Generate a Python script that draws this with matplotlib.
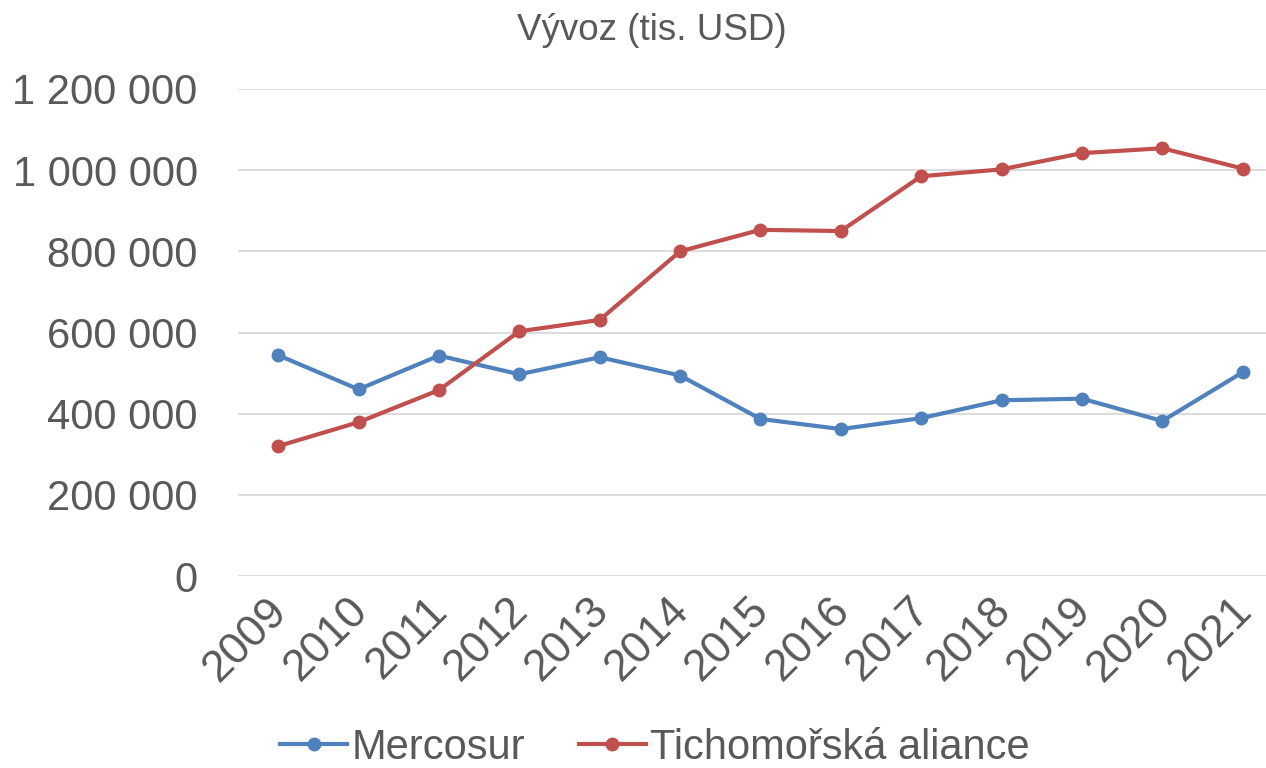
import matplotlib
matplotlib.use("Agg")
import matplotlib.pyplot as plt
from matplotlib.ticker import FuncFormatter
from matplotlib.transforms import ScaledTranslation

years = ["2009", "2010", "2011", "2012", "2013", "2014", "2015",
         "2016", "2017", "2018", "2019", "2020", "2021"]
mercosur = [544000, 460000, 543000, 497000, 539000, 494000, 387000,
            362000, 389000, 433000, 437000, 382000, 502000]
pacific = [320000, 379000, 458000, 603000, 631000, 800000, 853000,
           850000, 985000, 1002000, 1042000, 1054000, 1004000]
title = "Vývoz (tis. USD)"
labels = ["Mercosur", "Tichomořská aliance"]

plt.rcParams['font.family'] = ['Liberation Sans', 'DejaVu Sans']
text_color = "#595959"

fig = plt.figure(figsize=(12.66, 7.68), dpi=100)
ax = fig.add_axes([238/1266, 192/768, 1 - 238/1266, (576-89)/768])

x = list(range(len(years)))
ax.plot(x, mercosur, color="#4f81bd", lw=3, marker="o", ms=9, label=labels[0], clip_on=False)
ax.plot(x, pacific, color="#c0504d", lw=3, marker="o", ms=9, label=labels[1], clip_on=False)

ax.set_ylim(0, 1200000)
ax.set_xlim(-0.5, 12.29)
ax.set_yticks(range(0, 1200001, 200000))
ax.yaxis.set_major_formatter(FuncFormatter(lambda v, p: f"{int(v):,}".replace(",", " ")))
ax.set_xticks(x)
ax.set_xticklabels(years, rotation=45, ha="right", rotation_mode="anchor")
ax.tick_params(axis="both", length=0, labelsize=30, colors=text_color)
ax.tick_params(axis="x", labelsize=32, pad=10)
ax.tick_params(axis="y", pad=29)
off = ScaledTranslation(-12/100, 0, fig.dpi_scale_trans)
for lab in ax.get_xticklabels():
    lab.set_transform(lab.get_transform() + off)
ax.grid(axis="y", color="#d9d9d9", lw=1.3)
ax.set_axisbelow(True)
for s in ax.spines.values():
    s.set_visible(False)

fig.text(652/1266, 1 - 31/768, title, ha="center", va="center", fontsize=26.5, color=text_color)

leg = fig.legend(loc="center", bbox_to_anchor=(655/1266, 1 - 748/768), ncol=2, frameon=False,
                 fontsize=30, handlelength=1.6, handletextpad=0.1, columnspacing=1.3,
                 labelcolor=text_color, borderaxespad=0)

fig.savefig("out.png", dpi=100)
